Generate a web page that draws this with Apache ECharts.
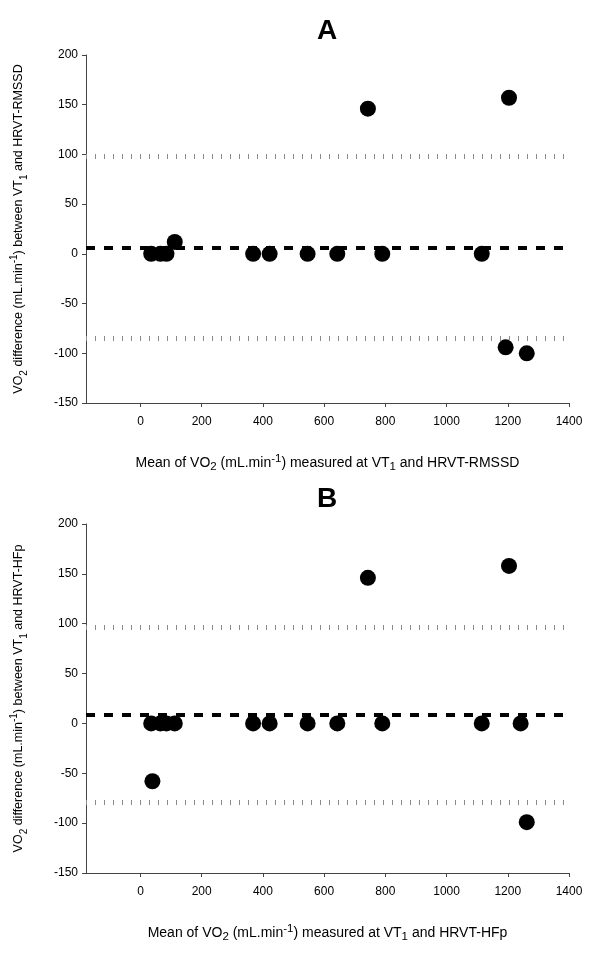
<!DOCTYPE html>
<html>
<head>
<meta charset="utf-8">
<script src="https://cdn.jsdelivr.net/npm/echarts@6/dist/echarts.min.js"></script>
<style>
html, body { margin: 0; padding: 0; background: #fff; }
#echart { width: 600px; height: 959px; }
</style>
</head>
<body>
<div id="echart"></div>
<script>
// panel A: VT1 vs HRVT-RMSSD
var meanA = [35, 65, 85, 112, 368, 422, 546, 643, 743, 790, 1115, 1193, 1204, 1262]
var diffA = [0, 0, 0, 12, 0, 0, 0, 0, 146, 0, 0, -94, 157, -100]
var biasA = 6.5
var upperA = 98
var lowerA = -85

// panel B: VT1 vs HRVT-HFp
var meanB = [35, 39, 65, 85, 112, 368, 422, 546, 643, 743, 790, 1115, 1204, 1242, 1262]
var diffB = [0, -58, 0, 0, 0, 0, 0, 0, 0, 146, 0, 0, 158, 0, -99]
var biasB = 8.3
var upperB = 96
var lowerB = -79.5

var xTicks = [0, 200, 400, 600, 800, 1000, 1200, 1400]
var xMin = -178
var xMax = 1400
var yMin = -150
var yMax = 200

var font = 'Liberation Sans'

// rich text styles for sub/superscripts, size = base font size
function richFor (size) {
  return {
    n: { fontFamily: font, fontSize: size, color: '#000', lineHeight: 20 },
    sub: { fontFamily: font, fontSize: size - 2.5, color: '#000', lineHeight: 10, verticalAlign: 'bottom' },
    sup: { fontFamily: font, fontSize: size - 2.5, color: '#000', lineHeight: 10, verticalAlign: 'top' }
  }
}

function zip (xs, ys) {
  var out = []
  for (var i = 0; i < xs.length; i++) {
    out.push([xs[i], ys[i]])
  }
  return out
}

function plain (v) {
  return String(v)
}

function xAxisFor (idx, suffix) {
  return {
    type: 'value',
    gridIndex: idx,
    min: xMin,
    max: xMax,
    name: '{n|Mean of VO}{sub|2}{n| (mL.min}{sup|-1}{n|) measured at VT}{sub|1}{n| and ' + suffix + '}',
    nameLocation: 'middle',
    nameGap: 50,
    nameTextStyle: { rich: richFor(14) },
    axisLine: { show: true, onZero: false, lineStyle: { color: '#444', width: 1 } },
    axisTick: { show: true, length: 4, customValues: xTicks, lineStyle: { color: '#444' } },
    axisLabel: { customValues: xTicks, formatter: plain, margin: 13, fontFamily: font, fontSize: 12, color: '#000' },
    splitLine: { show: false }
  }
}

function yAxisFor (idx, suffix) {
  return {
    type: 'value',
    gridIndex: idx,
    min: yMin,
    max: yMax,
    interval: 50,
    name: '{n|VO}{sub|2}{n| difference (mL.min}{sup|-1}{n|) between VT}{sub|1}{n| and ' + suffix + '}',
    nameLocation: 'middle',
    nameRotate: 90,
    nameGap: 57,
    nameTextStyle: { rich: richFor(12.5) },
    axisLine: { show: true, onZero: false, lineStyle: { color: '#444', width: 1 } },
    axisTick: { show: true, length: 4, lineStyle: { color: '#444' } },
    axisLabel: { formatter: plain, margin: 8, fontFamily: font, fontSize: 12, color: '#000' },
    splitLine: { show: false }
  }
}

function seriesFor (idx, xs, ys, bias, upper, lower) {
  return {
    type: 'scatter',
    xAxisIndex: idx,
    yAxisIndex: idx,
    data: zip(xs, ys),
    symbol: 'circle',
    symbolSize: 16,
    itemStyle: { color: '#000', opacity: 1 },
    markLine: {
      silent: true,
      symbol: 'none',
      label: { show: false },
      animation: false,
      data: [
        { yAxis: bias, lineStyle: { color: '#000', width: 4, type: [9, 9], opacity: 1 } },
        { yAxis: upper, lineStyle: { color: '#8a8a8a', width: 5, type: [1, 8], opacity: 1 } },
        { yAxis: lower, lineStyle: { color: '#8a8a8a', width: 5, type: [1, 8], opacity: 1 } }
      ]
    }
  }
}

var myChart = echarts.init(document.getElementById('echart'))
myChart.setOption({
  animation: false,
  backgroundColor: '#fff',
  graphic: [
    { type: 'text', x: 327, y: 17, style: { text: 'A', fill: '#000', font: 'bold 28px "Liberation Sans"', textAlign: 'center' } },
    { type: 'text', x: 327, y: 485, style: { text: 'B', fill: '#000', font: 'bold 28px "Liberation Sans"', textAlign: 'center' } }
  ],
  grid: [
    { left: 86, top: 55, width: 483, height: 348 },
    { left: 86, top: 524, width: 483, height: 349 }
  ],
  xAxis: [xAxisFor(0, 'HRVT-RMSSD'), xAxisFor(1, 'HRVT-HFp')],
  yAxis: [yAxisFor(0, 'HRVT-RMSSD'), yAxisFor(1, 'HRVT-HFp')],
  series: [
    seriesFor(0, meanA, diffA, biasA, upperA, lowerA),
    seriesFor(1, meanB, diffB, biasB, upperB, lowerB)
  ]
})
</script>
</body>
</html>
